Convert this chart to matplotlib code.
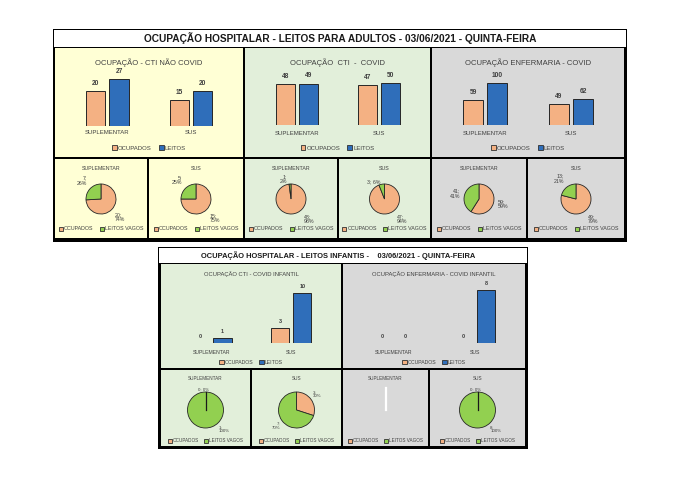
import matplotlib
matplotlib.use('Agg')
import matplotlib.pyplot as plt
from matplotlib.patches import Rectangle, Patch
import numpy as np

plt.rcParams['font.family'] = ['Liberation Sans Narrow', 'Liberation Sans', 'DejaVu Sans']

W, H = 680, 480

categories = ['SUPLEMENTAR', 'SUS']

# leitos adultos
cti_nao_covid_ocupados = [20, 15]
cti_nao_covid_leitos = [27, 20]
cti_nao_covid_vagos = [7, 5]
cti_covid_ocupados = [48, 47]
cti_covid_leitos = [49, 50]
cti_covid_vagos = [1, 3]
enf_covid_ocupados = [59, 49]
enf_covid_leitos = [100, 62]
enf_covid_vagos = [41, 13]

# leitos infantis
cti_inf_ocupados = [0, 3]
cti_inf_leitos = [1, 10]
cti_inf_vagos = [1, 7]
enf_inf_ocupados = [0, 0]
enf_inf_leitos = [0, 8]
enf_inf_vagos = [0, 8]

ORANGE = '#F4B183'
BLUE = '#2F6EBA'
GREEN = '#92D050'
YELLOW_BG = '#FFFFD5'
GREEN_BG = '#E2EFDA'
GRAY_BG = '#D9D9D9'
TXT = '#404040'

fig = plt.figure(figsize=(W / 100, H / 100), dpi=100)
bg = fig.add_axes([0, 0, 1, 1])
bg.set_xlim(0, W)
bg.set_ylim(H, 0)
bg.axis('off')


def px_axes(x0, y0, x1, y1):
    ax = fig.add_axes([x0 / W, 1 - y1 / H, (x1 - x0) / W, (y1 - y0) / H])
    ax.patch.set_alpha(0)
    return ax


def rect(x0, y0, x1, y1, fc):
    bg.add_patch(Rectangle((x0, y0), x1 - x0, y1 - y0, facecolor=fc, edgecolor='none'))


def legend(ax, labels, colors, cx, cy, size):
    handles = [Patch(facecolor=c, edgecolor='#303030', lw=0.6) for c in colors]
    ax.legend(handles, labels, loc='center', bbox_to_anchor=(cx / W, 1 - cy / H),
              bbox_transform=fig.transFigure, ncol=2, frameon=False, fontsize=size,
              handlelength=0.8, handleheight=0.8, handletextpad=0.2,
              columnspacing=1.2, labelcolor=TXT)


def bar_panel(box, fc, title, ocup, leitos, ymax, title_dy, base_dy, lab_dy, leg_dy,
              tfs=5.5, fs=4.3, vfs=4.8):
    x0, y0, x1, y1 = box
    rect(x0, y0, x1, y1, fc)
    bg.text((x0 + x1) / 2, y0 + title_dy, title, ha='center', va='center',
            fontsize=tfs, color=TXT)
    ax = px_axes(x0 + 13, y0 + 22, x1 - 10, y0 + base_dy)
    x = np.arange(len(categories))
    w = 0.23
    for off, vals, col in [(-0.14, ocup, ORANGE), (0.14, leitos, BLUE)]:
        lws = [0.7 if v > 0 else 0 for v in vals]
        ax.bar(x + off, vals, w, color=col, edgecolor='#262626', linewidth=lws)
        for xi, v in zip(x + off, vals):
            ax.annotate(str(v), (xi, v), xytext=(0, 3), textcoords='offset points',
                        ha='center', va='bottom', fontsize=vfs, fontweight='bold', color=TXT)
    ax.set_xlim(-0.47, 1.5)
    ax.set_ylim(0, ymax)
    ax.axis('off')
    ax.axhline(0, color='#C8C8C8', lw=0.6)
    for xi, c in zip(x, categories):
        ax.annotate(c, (xi, 0), xytext=(0, -(lab_dy - base_dy) * 0.72),
                    textcoords='offset points', ha='center', va='center',
                    fontsize=fs, color=TXT)
    legend(ax, ['OCUPADOS', 'LEITOS'], [ORANGE, BLUE], (x0 + x1) / 2, y0 + leg_dy, fs)


def pie_label(ax, ang, txt, rf, fs, top_x):
    c, s = np.cos(np.radians(ang)), np.sin(np.radians(ang))
    x, y = rf * c, rf * s
    ha = 'left' if c > 0.35 else ('right' if c < -0.35 else 'center')
    va = 'bottom' if s > 0.35 else ('top' if s < -0.35 else 'center')
    if s > 0.9:
        ha = 'right'
        x, y = top_x, 1.0
    ax.text(x, y, txt, ha=ha, va=va, fontsize=fs, color=TXT, linespacing=1.0)


def pie_panel(box, fc, title, ocup, vagos, seps, cy_off, r, title_dy, leg_dy,
              tfs=3.8, lfs=3.8, rf=1.3, top_x=-0.25):
    x0, y0, x1, y1 = box
    rect(x0, y0, x1, y1, fc)
    cx = (x0 + x1) / 2
    cy = y0 + cy_off
    bg.text(cx, y0 + title_dy, title, ha='center', va='center', fontsize=tfs, color=TXT)
    ax = px_axes(x0 + 2, y0 + title_dy + 3, x1 - 2, y0 + leg_dy - 5)
    vals = [ocup, vagos]
    total = sum(vals)
    if total == 0:
        ax.plot([0, 0], [0, 1.2], color='white', lw=1.6)
    else:
        ax.pie(vals, colors=[ORANGE, GREEN], startangle=90, counterclock=False,
               wedgeprops=dict(edgecolor='#262626', linewidth=0.6))
        start = 90.0
        for v, sep in zip(vals, seps):
            sweep = 360.0 * v / total
            mid = start - sweep / 2
            if v == 0:
                a = np.radians(start)
                ax.plot([0, np.cos(a)], [0, np.sin(a)], color='#1a1a1a', lw=0.9)
            # rotulos de baixo vao para a direita, como no Excel
            if -135 < mid < -55:
                mid = -50
            start -= sweep
            pct = int(round(100.0 * v / total))
            pie_label(ax, mid, f'{v};{sep}{pct}%', rf, lfs, top_x)
    ax.set_aspect('auto')
    ax.set_xlim((x0 + 2 - cx) / r, (x1 - 2 - cx) / r)
    ax.set_ylim((cy - (y0 + leg_dy - 5)) / r, (cy - (y0 + title_dy + 3)) / r)
    ax.axis('off')
    legend(ax, ['OCUPADOS', 'LEITOS VAGOS'], [ORANGE, GREEN], cx, y0 + leg_dy, tfs)


NL, SP = '\n', ' '

# ---- bloco adultos ----
rect(53, 29, 627, 242, 'black')
rect(54, 30, 626, 47, 'white')
bg.text(340, 38.5, 'OCUPAÇÃO HOSPITALAR - LEITOS PARA ADULTOS - 03/06/2021 - QUINTA-FEIRA',
        ha='center', va='center', fontsize=7.3, fontweight='bold', color='#1a1a1a')

bar_panel((55, 48, 243, 157), YELLOW_BG, 'OCUPAÇÃO - CTI NÃO COVID',
          cti_nao_covid_ocupados, cti_nao_covid_leitos, 32, 15, 78, 85, 100)
bar_panel((245, 48, 430, 157), GREEN_BG, 'OCUPAÇÃO  CTI  -  COVID',
          cti_covid_ocupados, cti_covid_leitos, 65, 15, 77, 85, 100)
bar_panel((432, 48, 624, 157), GRAY_BG, 'OCUPAÇÃO ENFERMARIA - COVID',
          enf_covid_ocupados, enf_covid_leitos, 130, 15, 77, 85, 100)

top_pies = [((55, 159, 147, 238), YELLOW_BG, cti_nao_covid_ocupados, cti_nao_covid_vagos, 0, (NL, NL)),
            ((149, 159, 243, 238), YELLOW_BG, cti_nao_covid_ocupados, cti_nao_covid_vagos, 1, (NL, NL)),
            ((245, 159, 337, 238), GREEN_BG, cti_covid_ocupados, cti_covid_vagos, 0, (NL, NL)),
            ((339, 159, 430, 238), GREEN_BG, cti_covid_ocupados, cti_covid_vagos, 1, (NL, SP)),
            ((432, 159, 526, 238), GRAY_BG, enf_covid_ocupados, enf_covid_vagos, 0, (NL, NL)),
            ((528, 159, 624, 238), GRAY_BG, enf_covid_ocupados, enf_covid_vagos, 1, (NL, NL))]
for box, fc, oc, va, i, seps in top_pies:
    pie_panel(box, fc, categories[i], oc[i], va[i], seps, 40, 15, 10, 70)

# ---- bloco infantis ----
rect(158, 247, 528, 449, 'black')
rect(159, 248, 527, 263, 'white')
bg.text(338, 255.5, 'OCUPAÇÃO HOSPITALAR - LEITOS INFANTIS -    03/06/2021 - QUINTA-FEIRA',
        ha='center', va='center', fontsize=5.4, fontweight='bold', color='#1a1a1a')

bar_panel((161, 264, 341, 368), GREEN_BG, 'OCUPAÇÃO CTI - COVID INFANTIL',
          cti_inf_ocupados, cti_inf_leitos, 11.4, 10, 79, 88, 98, tfs=4.2, fs=3.7, vfs=4.0)
bar_panel((343, 264, 525, 368), GRAY_BG, 'OCUPAÇÃO ENFERMARIA - COVID INFANTIL',
          enf_inf_ocupados, enf_inf_leitos, 8.6, 10, 79, 88, 98, tfs=4.2, fs=3.7, vfs=4.0)

inf_pies = [((161, 370, 250, 446), GREEN_BG, cti_inf_ocupados, cti_inf_vagos, 0, (SP, NL)),
            ((252, 370, 341, 446), GREEN_BG, cti_inf_ocupados, cti_inf_vagos, 1, (NL, NL)),
            ((343, 370, 428, 446), GRAY_BG, enf_inf_ocupados, enf_inf_vagos, 0, (SP, NL)),
            ((430, 370, 525, 446), GRAY_BG, enf_inf_ocupados, enf_inf_vagos, 1, (SP, NL))]
for box, fc, oc, va, i, seps in inf_pies:
    pie_panel(box, fc, categories[i], oc[i], va[i], seps, 40, 18, 8, 71,
              tfs=3.3, lfs=3.2, rf=1.1, top_x=0.2)

fig.savefig('out.png', dpi=100)
